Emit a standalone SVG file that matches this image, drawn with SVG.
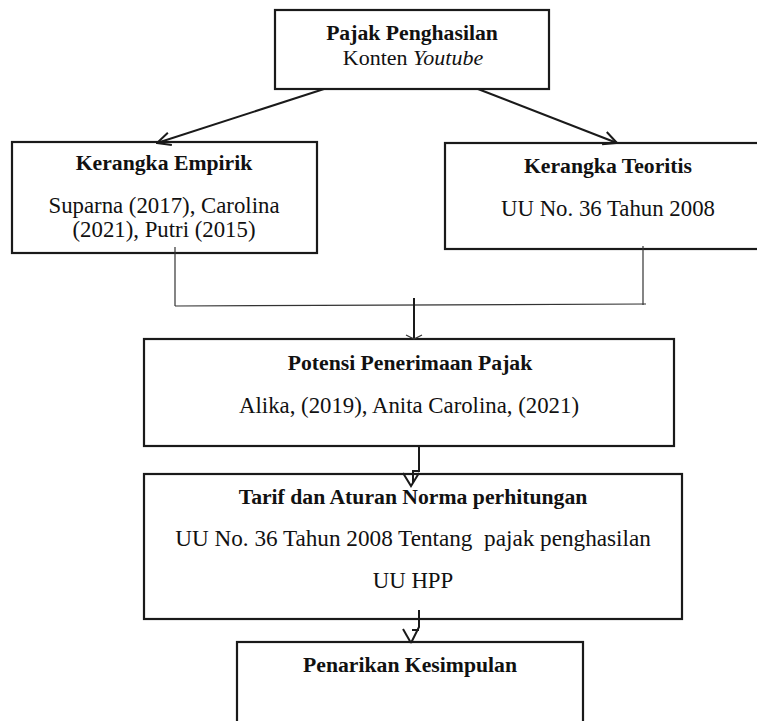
<svg xmlns="http://www.w3.org/2000/svg" width="757" height="721" viewBox="0 0 757 721">
<style>
  .box{fill:#fff;stroke:#1a1a1a;stroke-width:2.2}
  .b{font-family:'Liberation Serif','Times New Roman',Times,serif;font-weight:bold;font-size:21.7px;fill:#111;text-anchor:middle}
  .r{font-family:'Liberation Serif','Times New Roman',Times,serif;font-weight:normal;font-size:22.8px;fill:#111;text-anchor:middle}
  .c{fill:none;stroke:#1a1a1a;stroke-width:2}
  .t{fill:none;stroke:#333;stroke-width:1.2}
</style>
<defs>
  <marker id="arr" viewBox="0 0 16 16" markerWidth="16" markerHeight="16" refX="14.5" refY="8" orient="auto" markerUnits="userSpaceOnUse">
    <path d="M1,1.5 L14.5,8 L1,14.5" fill="none" stroke="#1a1a1a" stroke-width="2"/>
  </marker>
</defs>
<rect width="757" height="721" fill="#fff"/>

<g id="node-pajak">
  <rect class="box" x="275" y="10" width="274" height="79"/>
  <text class="b" x="412" y="40">Pajak Penghasilan</text>
  <text class="r" x="413" y="65" style="font-size:22px">Konten <tspan font-style="italic">Youtube</tspan></text>
</g>

<g id="node-empirik">
  <rect class="box" x="12" y="142" width="305" height="111"/>
  <text class="b" x="164" y="170">Kerangka Empirik</text>
  <text class="r" x="164" y="213">Suparna (2017), Carolina</text>
  <text class="r" x="164" y="237">(2021), Putri (2015)</text>
</g>

<g id="node-teoritis">
  <rect class="box" x="445" y="143" width="330" height="106"/>
  <text class="b" x="608" y="173">Kerangka Teoritis</text>
  <text class="r" x="608" y="216">UU No. 36 Tahun 2008</text>
</g>

<g id="node-potensi">
  <rect class="box" x="144" y="339" width="530" height="107"/>
  <text class="b" x="410" y="370">Potensi Penerimaan Pajak</text>
  <text class="r" x="409" y="413">Alika, (2019), Anita Carolina, (2021)</text>
</g>

<g id="node-tarif">
  <rect class="box" x="144" y="474" width="538" height="145"/>
  <text class="b" x="413" y="504">Tarif dan Aturan Norma perhitungan</text>
  <text class="r" x="413" y="546" style="font-size:23.2px" xml:space="preserve">UU No. 36 Tahun 2008 Tentang  pajak penghasilan</text>
  <text class="r" x="413" y="588">UU HPP</text>
</g>

<g id="node-penarikan">
  <rect class="box" x="237" y="642" width="346" height="110"/>
  <text class="b" x="410" y="672">Penarikan Kesimpulan</text>
</g>

<g id="connectors">
  <line class="c" x1="324" y1="89" x2="157" y2="143" marker-end="url(#arr)"/>
  <line class="c" x1="478" y1="89" x2="617" y2="143" marker-end="url(#arr)"/>
  <line class="t" x1="175" y1="247" x2="175" y2="306"/>
  <line class="t" x1="643" y1="246" x2="643" y2="305"/>
  <line class="t" x1="175" y1="306" x2="646" y2="304"/>
  <line class="c" x1="414" y1="298" x2="414" y2="338"/>
  <polyline class="t" points="406,335 414,339 422,335"/>
  <polyline class="c" points="419,446 419,471 413,471 413,483"/>
  <polyline class="c" points="403,473 411,486 419,473"/>
  <polyline class="c" points="419,610 419,627 411,643"/>
  <line class="c" x1="403" y1="629" x2="411" y2="643"/>
  <line class="c" x1="412" y1="630" x2="419" y2="630"/>
</g>
</svg>
